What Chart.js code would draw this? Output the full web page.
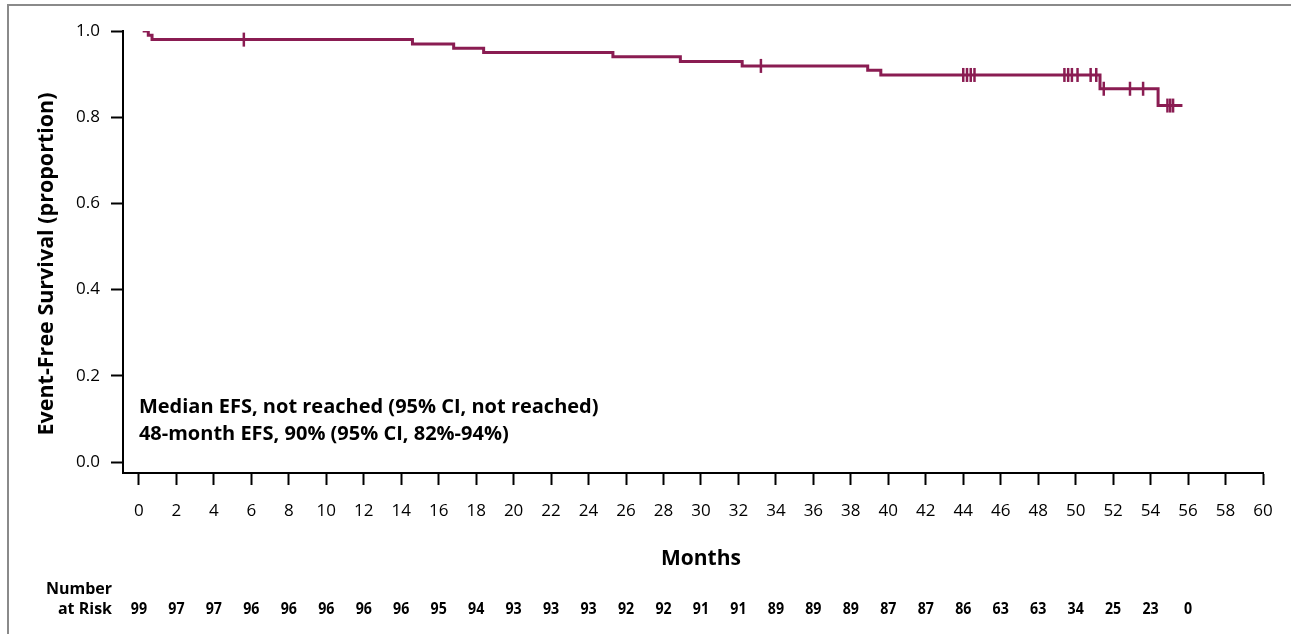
<!DOCTYPE html>
<html>
<head>
    <meta charset="utf-8" />
    <title>Event-Free Survival</title>
    <script src="https://cdn.jsdelivr.net/npm/chart.js@4.4.0/dist/chart.umd.min.js"></script>
    <style>
        html, body { margin: 0; padding: 0; background: #fff; }
        #wrap { position: relative; width: 1291px; height: 634px; overflow: hidden; }
        #wrap canvas { position: absolute; left: 0; top: 0; }
        #frame { position: absolute; left: 7px; top: 4px; right: -10px; bottom: -10px;
                 border-top: 2px solid #8a8a8a; border-left: 2px solid #8a8a8a; pointer-events: none; }
    </style>
</head>
<body>
    <div id="wrap">
        <div id="frame"></div>
        <canvas id="efsChart" width="1291" height="634"></canvas>
    </div>

    <script>
        // Kaplan-Meier steps (month of event, survival after it)
        const stepMonths   = [0.2, 0.5, 0.7, 14.6, 16.8, 18.4, 25.3, 28.9, 32.2, 38.9, 39.6, 51.3, 54.4, 55.7];
        const stepSurvival = [1.0, 0.99, 0.98, 0.97, 0.96, 0.95, 0.94, 0.929, 0.919, 0.909, 0.898, 0.866, 0.827, 0.827];

        // censored patients
        const censorMonths   = [5.6, 33.2, 44.0, 44.2, 44.4, 44.6, 49.4, 49.6, 49.8, 50.1, 50.8, 51.1, 51.5, 52.9, 53.6, 54.9, 55.05, 55.2];
        const censorSurvival = [0.98, 0.919, 0.898, 0.898, 0.898, 0.898, 0.898, 0.898, 0.898, 0.898, 0.898, 0.898, 0.866, 0.866, 0.866, 0.827, 0.827, 0.827];

        const xTicks = [0, 2, 4, 6, 8, 10, 12, 14, 16, 18, 20, 22, 24, 26, 28, 30, 32, 34, 36, 38, 40, 42, 44, 46, 48, 50, 52, 54, 56, 58, 60];
        const yTicks = [0, 0.2, 0.4, 0.6, 0.8, 1.0];

        const riskMonths = [0, 2, 4, 6, 8, 10, 12, 14, 16, 18, 20, 22, 24, 26, 28, 30, 32, 34, 36, 38, 40, 42, 44, 46, 48, 50, 52, 54, 56];
        const atRisk     = [99, 97, 97, 96, 96, 96, 96, 96, 95, 94, 93, 93, 93, 92, 92, 91, 91, 89, 89, 89, 87, 87, 86, 63, 63, 34, 25, 23, 0];

        const noteLines = [
            'Median EFS, not reached (95% CI, not reached)',
            '48-month EFS, 90% (95% CI, 82%-94%)'
        ];
        const xTitle = 'Months';
        const yTitle = 'Event-Free Survival (proportion)';

        const curveColor = '#8a1c52';
        const fontFamily = '"Open Sans", "Noto Sans", sans-serif';

        // axis titles, annotation and number-at-risk row
        const extraText = {
            id: 'extraText',
            afterDraw(chart) {
                const ctx = chart.ctx;
                const x = chart.scales.x;
                ctx.save();
                ctx.fillStyle = '#000';

                ctx.textBaseline = 'middle';
                ctx.textAlign = 'center';
                ctx.font = 'bold 21px ' + fontFamily;
                ctx.fillText(xTitle, (x.getPixelForValue(0) + x.getPixelForValue(60)) / 2, 559);

                ctx.save();
                ctx.translate(47, 264);
                ctx.rotate(-Math.PI / 2);
                ctx.font = 'bold 21.5px ' + fontFamily;
                ctx.fillText(yTitle, 0, 0);
                ctx.restore();

                ctx.textBaseline = 'alphabetic';
                ctx.font = 'bold 20px ' + fontFamily;
                ctx.textAlign = 'left';
                noteLines.forEach((t, i) => ctx.fillText(t, x.getPixelForValue(0), 413 + i * 27));

                ctx.font = 'bold 16px ' + fontFamily;
                ctx.textAlign = 'right';
                ctx.fillText('Number', 112, 594);
                ctx.fillText('at Risk', 112, 614);

                ctx.textAlign = 'center';
                ctx.font = 'bold 16.5px ' + fontFamily;
                riskMonths.forEach((m, i) => {
                    ctx.save();
                    ctx.translate(x.getPixelForValue(m), 614);
                    ctx.scale(0.86, 1);
                    ctx.fillText(String(atRisk[i]), 0, 0);
                    ctx.restore();
                });
                ctx.restore();
            }
        };

        const axisGrid = { drawOnChartArea: false, drawTicks: true, tickLength: 12, tickWidth: 2, tickColor: '#000' };
        const axisBorder = { display: true, color: '#000', width: 2 };

        new Chart(document.getElementById('efsChart'), {
            type: 'scatter',
            data: {
                datasets: [
                    {
                        data: stepMonths.map((m, i) => ({ x: m, y: stepSurvival[i] })),
                        showLine: true,
                        stepped: true,
                        borderColor: curveColor,
                        borderWidth: 3,
                        pointRadius: 0,
                        fill: false
                    },
                    {
                        data: censorMonths.map((m, i) => ({ x: m, y: censorSurvival[i] })),
                        showLine: false,
                        pointStyle: 'line',
                        rotation: 90,
                        pointRadius: 7,
                        borderWidth: 2.5,
                        borderColor: curveColor,
                        backgroundColor: curveColor
                    }
                ]
            },
            options: {
                responsive: false,
                animation: false,
                layout: { padding: { left: 0, top: 31, right: 28, bottom: 0 } },
                plugins: { legend: { display: false }, tooltip: { enabled: false } },
                scales: {
                    x: {
                        type: 'linear',
                        min: -0.85,
                        max: 60,
                        afterFit(s) { s.height = 161; },
                        afterBuildTicks(s) { s.ticks = xTicks.map(v => ({ value: v })); },
                        ticks: { color: '#000', font: { family: fontFamily, size: 17 }, padding: 16, maxRotation: 0, autoSkip: false },
                        grid: axisGrid,
                        border: axisBorder
                    },
                    y: {
                        min: -0.0255,
                        max: 1.0,
                        afterFit(s) { s.width = 123; },
                        afterBuildTicks(s) { s.ticks = yTicks.map(v => ({ value: v })); },
                        ticks: { color: '#000', font: { family: fontFamily, size: 17 }, padding: 11,
                                 callback: v => v.toFixed(1) },
                        grid: axisGrid,
                        border: axisBorder
                    }
                }
            },
            plugins: [extraText]
        });
    </script>
</body>
</html>
